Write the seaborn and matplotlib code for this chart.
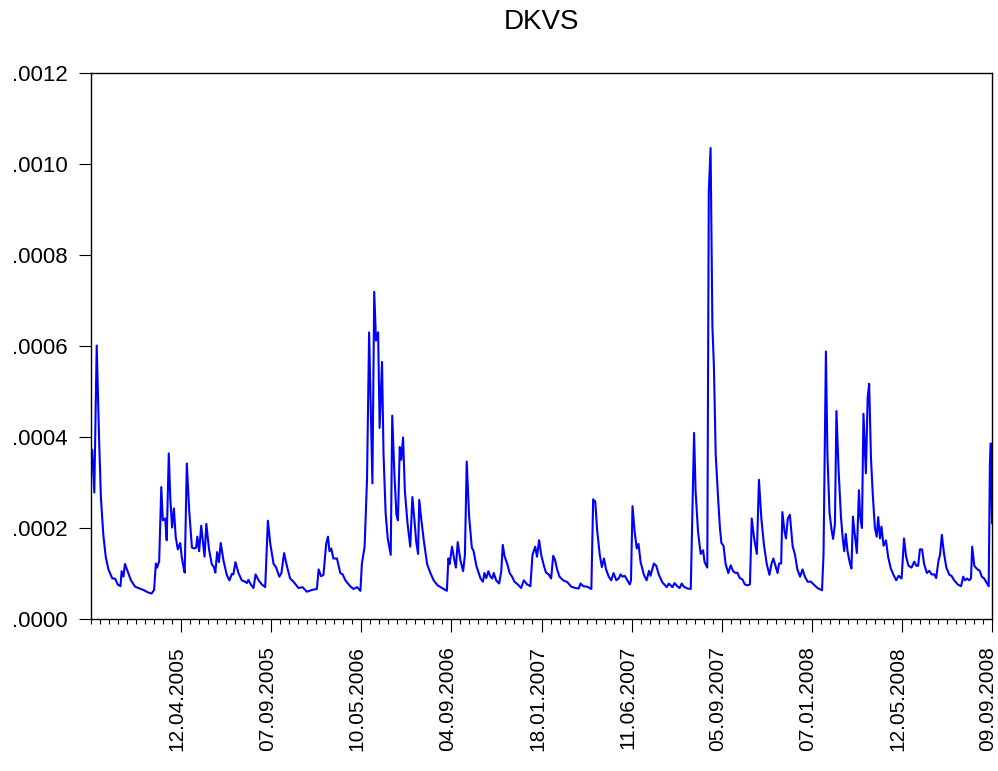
import matplotlib
matplotlib.use("Agg")
import matplotlib.pyplot as plt
import matplotlib.transforms as mtransforms
import seaborn as sns
import pandas as pd
import numpy as np
from matplotlib.ticker import MultipleLocator, FixedLocator, FuncFormatter

title = "DKVS"
series_name = "DKVS"
scale = 1e-4
obs = [
    0.4, 1.1, 1.9, 2.7, 3.3, 4.1, 4.9, 5.8, 7.1, 8.0, 8.9, 9.8, 10.2, 10.8, 11.3, 12.2, 13.3, 14.7, 15.8, 17.4,
    19.1, 20.2, 21.0, 21.6, 22.0, 22.7, 23.4, 23.9, 24.7, 25.2, 25.9, 26.4, 27.0, 27.6, 28.2, 28.9, 29.7, 30.2,
    30.7, 31.2, 31.9, 32.7, 33.6, 34.4, 35.0, 35.4, 36.0, 36.7, 37.8, 38.4, 39.3, 40.2, 40.9, 41.4, 42.0, 42.6,
    43.2, 44.1, 45.2, 46.1, 46.9, 47.4, 48.1, 49.1, 50.2, 51.3, 51.9, 52.4, 53.2, 54.1, 54.8, 55.8, 56.9, 58.0,
    58.9, 59.7, 60.8, 61.6, 62.7, 63.4, 64.3, 65.2, 66.3, 67.4, 69.1, 70.4, 71.9, 73.6, 75.2, 75.8, 76.6, 77.4,
    78.3, 78.9, 79.4, 80.0, 80.7, 81.9, 83.0, 83.8, 84.7, 86.3, 87.4, 88.6, 89.7, 90.2, 91.1, 91.9, 92.6, 93.7,
    94.3, 94.9, 95.6, 96.1, 96.9, 97.4, 98.1, 98.8, 99.8, 100.3, 101.0, 101.7, 102.2, 102.8, 103.3, 103.9, 104.5,
    105.4, 106.3, 107.0, 107.8, 108.3, 108.9, 109.3, 110.0, 110.8, 111.9, 113.0, 114.1, 115.4, 116.9, 118.5,
    119.0, 119.4, 120.2, 121.0, 121.5, 122.1, 123.0, 123.9, 124.5, 125.1, 125.9, 126.8, 127.4, 128.3, 129.7,
    130.5, 131.0, 131.6, 132.3, 133.0, 133.6, 134.1, 134.9, 135.9, 136.6, 137.1, 137.7, 138.6, 139.4, 140.2,
    141.0, 142.1, 143.2, 144.1, 145.2, 146.3, 147.0, 147.9, 148.5, 149.2, 149.9, 150.8, 151.5, 152.4, 153.2,
    153.9, 154.5, 155.2, 156.0, 157.2, 158.6, 159.9, 161.3, 162.4, 163.0, 163.9, 165.2, 166.6, 167.2, 167.9,
    168.5, 169.4, 170.1, 170.8, 171.5, 172.4, 173.2, 174.0, 174.9, 175.8, 176.3, 177.0, 177.7, 178.6, 179.4,
    179.8, 180.3, 181.0, 181.7, 182.3, 183.0, 184.1, 185.0, 185.8, 186.3, 187.4, 188.2, 189.1, 190.2, 191.7,
    192.4, 193.6, 194.3, 195.2, 196.0, 196.7, 197.4, 198.6, 199.7, 200.8, 201.3, 202.1, 203.0, 203.8, 204.3,
    205.2, 205.7, 206.3, 206.9, 207.4, 208.0, 208.8, 209.4, 209.9, 210.6, 211.3, 212.2, 213.0, 213.8, 214.7,
    215.2, 216.0, 216.9, 217.7, 218.6, 219.4, 220.0, 220.8, 221.7, 222.4, 223.2, 224.1, 225.0, 225.9, 226.6,
    227.2, 227.9, 228.6, 229.1, 229.8, 230.2, 230.9, 231.4, 232.0, 232.7, 233.6, 234.4, 235.2, 236.1, 236.9,
    237.7, 238.6, 239.7, 240.6, 241.9, 243.4, 243.9, 244.7, 245.2, 245.9, 246.6, 247.1, 247.7, 248.2, 248.9,
    249.7, 250.3, 250.8, 251.3, 251.9, 252.6, 253.2, 253.7, 254.2, 255.0, 255.7, 256.1, 256.7, 257.2, 258.0,
    258.6, 259.1, 259.7, 260.3, 261.0, 261.6, 262.1, 262.7, 263.2, 263.9, 264.7, 265.4, 266.3, 267.2, 268.1,
    268.9, 269.9, 270.7, 271.4, 272.2, 273.2, 274.1, 274.8, 275.4, 276.0, 276.7, 277.4, 278.3, 279.1, 279.9,
    280.8, 281.4, 282.2, 282.7, 283.3, 284.0, 284.8, 285.8, 286.5, 287.4, 288.6, 289.7, 290.4, 291.0, 291.7,
    292.4, 293.0, 293.4, 294.1, 295.0, 295.9, 296.6, 297.4, 298.3, 298.9, 299.3, 299.6, 300.0,
]
values = [
    3.72, 2.78, 6.01, 3.95, 2.66, 1.85, 1.37, 1.09, 0.89, 0.89, 0.76, 0.72, 1.05, 0.93, 1.21, 1.05, 0.85, 0.71, 0.68, 0.64,
    0.58, 0.56, 0.64, 1.22, 1.13, 1.27, 2.90, 2.17, 2.21, 1.73, 3.64, 2.66, 2.01, 2.43, 1.81, 1.53, 1.67, 1.37,
    1.17, 1.02, 3.42, 2.38, 1.57, 1.55, 1.57, 1.81, 1.49, 2.05, 1.37, 2.09, 1.53, 1.21, 1.14, 1.02, 1.47, 1.25,
    1.67, 1.29, 0.97, 0.85, 0.99, 0.98, 1.25, 1.01, 0.85, 0.82, 0.79, 0.86, 0.76, 0.68, 0.98, 0.85, 0.76, 0.70,
    2.16, 1.65, 1.21, 1.14, 0.93, 1.01, 1.45, 1.17, 0.89, 0.82, 0.68, 0.70, 0.60, 0.64, 0.66, 1.09, 0.94, 0.97,
    1.65, 1.81, 1.49, 1.55, 1.33, 1.33, 1.01, 0.98, 0.85, 0.72, 0.66, 0.70, 0.62, 1.22, 1.59, 3.06, 6.30, 2.98,
    7.19, 6.12, 6.30, 4.20, 5.65, 3.62, 2.33, 1.77, 1.41, 4.47, 3.22, 2.29, 2.17, 3.78, 3.50, 3.99, 2.82,
    2.09, 1.59, 2.68, 2.09, 1.69, 1.43, 2.62, 2.17, 1.73, 1.21, 1.01, 0.85, 0.74, 0.68, 0.62,
    1.33, 1.21, 1.59, 1.29, 1.13, 1.69, 1.29, 1.05, 1.41, 3.46, 2.25, 1.57, 1.49, 1.17, 0.89,
    0.82, 1.01, 0.90, 1.05, 0.93, 0.89, 1.01, 0.85, 0.78, 1.05, 1.63, 1.38, 1.21, 1.01, 0.93,
    0.82, 0.76, 0.68, 0.85, 0.76, 0.72, 1.41, 1.59, 1.37, 1.73, 1.41, 1.17, 1.02, 0.98, 0.89,
    1.39, 1.30, 1.09, 0.93, 0.85, 0.81, 0.71, 0.68, 0.67, 0.78, 0.72, 0.71, 0.66, 2.63, 2.58,
    1.97, 1.41, 1.14, 1.33, 1.09, 0.93, 0.85, 1.01, 0.85, 0.90, 0.98, 0.93, 0.95, 0.85, 0.76,
    0.85, 2.48, 1.93, 1.55, 1.65, 1.25, 0.97, 0.85, 1.06, 0.95, 1.22, 1.17, 0.97, 0.81, 0.70,
    0.78, 0.70, 0.79, 0.72, 0.68, 0.78, 0.71, 0.67, 0.66, 4.09, 2.82, 1.93, 1.43, 1.51, 1.25,
    1.13, 9.40, 10.35, 6.44, 5.56, 3.62, 2.66, 2.01, 1.67, 1.61, 1.21, 1.01, 1.18, 1.05, 1.01,
    1.02, 0.90, 0.87, 0.76, 0.74, 0.76, 2.21, 1.77, 1.43, 3.06, 2.21, 1.61, 1.21, 0.97, 1.22,
    1.33, 1.17, 1.01, 1.22, 1.22, 2.35, 1.93, 1.77, 2.21, 2.29, 1.61, 1.41, 1.09, 0.93, 1.09,
    0.93, 0.82, 0.82, 0.76, 0.68, 0.63, 1.41, 5.88, 3.62, 2.33, 1.95, 1.76, 2.09, 4.57, 3.30,
    2.25, 1.77, 1.49, 1.87, 1.49, 1.25, 1.11, 2.25, 1.93, 1.45, 2.83, 2.25, 2.00, 4.51, 3.20,
    4.87, 5.17, 3.54, 2.74, 2.01, 1.81, 2.24, 1.77, 2.03, 1.61, 1.73, 1.37, 1.11, 0.97, 0.85,
    0.95, 0.89, 1.77, 1.37, 1.17, 1.13, 1.26, 1.17, 1.17, 1.53, 1.53, 1.21, 1.01, 1.06, 0.98,
    0.98, 0.90, 1.29, 1.41, 1.85, 1.45, 1.13, 0.97, 0.95, 0.85, 0.76, 0.72, 0.93, 0.85, 0.89,
    0.85, 0.89, 1.59, 1.17, 1.10, 1.06, 0.93, 0.89, 0.79, 0.72, 3.42, 3.86, 2.10,
]
tick_obs = [30, 60, 90, 120, 150, 180, 210, 240, 270, 300]
tick_labels = ["12.04.2005", "07.09.2005", "10.05.2006", "04.09.2006", "18.01.2007",
               "11.06.2007", "05.09.2007", "07.01.2008", "12.05.2008", "09.09.2008"]
y_ticks = [0.0, 0.0002, 0.0004, 0.0006, 0.0008, 0.0010, 0.0012]

df = pd.DataFrame({"obs": obs, series_name: np.array(values) * scale})

sns.set_style("ticks")
plt.rcParams["font.family"] = ["Liberation Sans", "DejaVu Sans"]
plt.rcParams["text.color"] = "black"
plt.rcParams["xtick.color"] = "black"
plt.rcParams["ytick.color"] = "black"
plt.rcParams["axes.labelcolor"] = "black"

fig = plt.figure(figsize=(9.98, 7.71), dpi=100)
ax = fig.add_axes([91 / 998, 1 - 619 / 771, (992 - 91) / 998, (619 - 73) / 771])

sns.lineplot(data=df, x="obs", y=series_name, ax=ax, color="#0000FF", linewidth=1.5,
             estimator=None, sort=False)

ax.set_xlim(0, 300)
ax.set_ylim(0, 0.0012)
ax.yaxis.set_major_locator(FixedLocator(y_ticks))
ax.yaxis.set_major_formatter(FuncFormatter(lambda v, p: f"{v:.4f}".lstrip("0")))
ax.xaxis.set_major_locator(FixedLocator(tick_obs))
ax.set_xticklabels(tick_labels, rotation=90)
ax.xaxis.set_minor_locator(MultipleLocator(3))

ax.tick_params(axis="y", which="major", direction="out", length=8.5, width=0.8,
               pad=8.5, labelsize=16, color="black", labelcolor="black")
ax.tick_params(axis="x", which="major", direction="out", length=9.5, width=0.8,
               pad=10, labelsize=15, color="black", labelcolor="black")
ax.tick_params(axis="x", which="minor", direction="out", length=3.8, width=0.8, color="black")
shift = mtransforms.ScaledTranslation(-4 / 100, 0, fig.dpi_scale_trans)
for lab in ax.get_xticklabels():
    lab.set_transform(lab.get_transform() + shift)
for s in ax.spines.values():
    s.set_linewidth(1.0)
    s.set_color("black")
ax.set_xlabel("")
ax.set_ylabel("")
ax.set_title(title, fontsize=20, pad=32, color="black")
ax.grid(False)

fig.savefig("out.png", dpi=100)
